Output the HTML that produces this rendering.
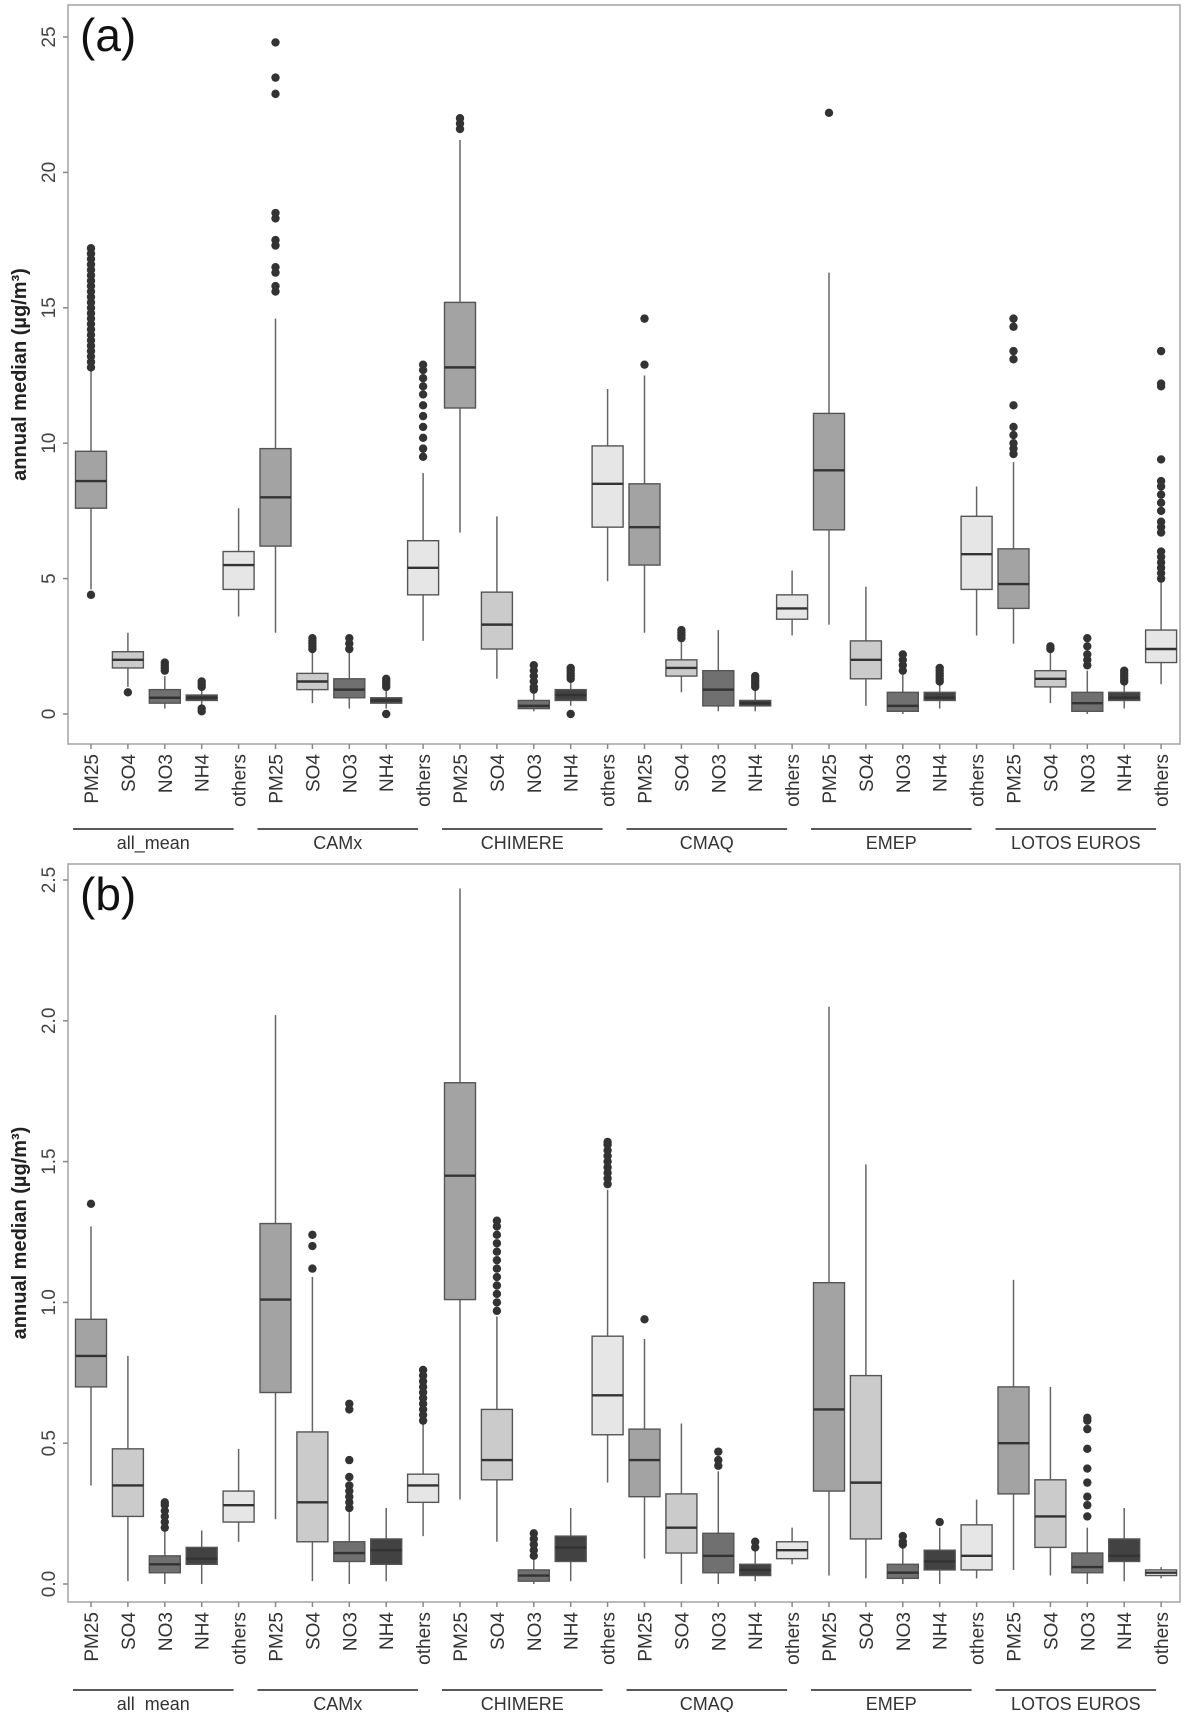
<!DOCTYPE html>
<html><head><meta charset="utf-8"><style>
body{margin:0;background:#fff}
svg{display:block;font-family:"Liberation Sans",sans-serif}
</style></head><body>
<svg id="chart" width="1192" height="1712" viewBox="0 0 1192 1712"></svg>
<script>
const groups=["all_mean","CAMx","CHIMERE","CMAQ","EMEP","LOTOS  EUROS"];
const species=["PM25","SO4","NO3","NH4","others"];
const fills=["#a3a3a3","#cbcbcb","#707070","#424242","#e6e6e6"];
// [lowWhisker,q1,median,q3,highWhisker] per box, panel a
const statsA=[
[4.6,7.6,8.6,9.7,12.7],[1.0,1.7,2.0,2.3,3.0],[0.2,0.4,0.6,0.9,1.4],[0.3,0.5,0.6,0.7,0.9],[3.6,4.6,5.5,6.0,7.6],
[3.0,6.2,8.0,9.8,14.6],[0.4,0.9,1.2,1.5,2.3],[0.2,0.6,0.9,1.3,2.3],[0.2,0.4,0.5,0.6,0.9],[2.7,4.4,5.4,6.4,8.9],
[6.7,11.3,12.8,15.2,21.2],[1.3,2.4,3.3,4.5,7.3],[0.1,0.2,0.3,0.5,0.8],[0.3,0.5,0.7,0.9,1.2],[4.9,6.9,8.5,9.9,12.0],
[3.0,5.5,6.9,8.5,12.5],[0.8,1.4,1.7,2.0,2.7],[0.1,0.3,0.9,1.6,3.1],[0.1,0.3,0.4,0.5,0.9],[2.9,3.5,3.9,4.4,5.3],
[3.3,6.8,9.0,11.1,16.3],[0.3,1.3,2.0,2.7,4.7],[0.0,0.1,0.3,0.8,1.5],[0.2,0.5,0.6,0.8,1.1],[2.9,4.6,5.9,7.3,8.4],
[2.6,3.9,4.8,6.1,9.3],[0.4,1.0,1.3,1.6,2.3],[0.0,0.1,0.4,0.8,1.6],[0.2,0.5,0.6,0.8,1.1],[1.1,1.9,2.4,3.1,4.9]];
const outA=[
[4.4,12.8,13.0,13.2,13.4,13.6,13.8,14.0,14.2,14.4,14.6,14.8,15.0,15.2,15.4,15.6,15.8,16.0,16.2,16.4,16.6,16.8,17.0,17.2],[0.8],[1.6,1.7,1.8,1.9],[0.1,0.2,1.0,1.1,1.2],[],
[15.6,15.8,16.3,16.5,17.3,17.5,18.3,18.5,22.9,23.5,24.8],[2.4,2.5,2.6,2.7,2.8],[2.4,2.6,2.8],[0.0,1.0,1.1,1.2,1.3],[9.5,9.8,10.2,10.6,11.0,11.4,11.8,12.1,12.4,12.7,12.9],
[21.6,21.8,22.0],[],[0.9,1.0,1.2,1.4,1.6,1.8],[0.0,1.3,1.4,1.5,1.6,1.7],[],
[12.9,14.6],[2.8,2.9,3.0,3.1],[],[1.0,1.1,1.2,1.3,1.4],[],
[22.2],[],[1.6,1.8,2.0,2.2],[1.2,1.3,1.4,1.5,1.6,1.7],[],
[9.6,9.8,10.0,10.3,10.6,11.4,13.1,13.4,14.3,14.6],[2.4,2.5],[1.8,2.0,2.2,2.5,2.8],[1.2,1.3,1.4,1.5,1.6],[5.0,5.2,5.4,5.6,5.8,6.0,6.7,6.9,7.1,7.5,7.8,8.1,8.4,8.6,9.4,12.1,12.2,13.4]];
// panel b
const statsB=[
[0.35,0.70,0.81,0.94,1.27],[0.01,0.24,0.35,0.48,0.81],[0.0,0.04,0.07,0.10,0.19],[0.0,0.07,0.09,0.13,0.19],[0.15,0.22,0.28,0.33,0.48],
[0.23,0.68,1.01,1.28,2.02],[0.01,0.15,0.29,0.54,1.09],[0.0,0.08,0.11,0.15,0.26],[0.01,0.07,0.12,0.16,0.27],[0.17,0.29,0.35,0.39,0.57],
[0.30,1.01,1.45,1.78,2.47],[0.15,0.37,0.44,0.62,0.95],[0.0,0.01,0.03,0.05,0.09],[0.01,0.08,0.13,0.17,0.27],[0.36,0.53,0.67,0.88,1.40],
[0.09,0.31,0.44,0.55,0.87],[0.0,0.11,0.20,0.32,0.57],[0.0,0.04,0.10,0.18,0.40],[0.01,0.03,0.05,0.07,0.12],[0.07,0.09,0.12,0.15,0.20],
[0.03,0.33,0.62,1.07,2.05],[0.02,0.16,0.36,0.74,1.49],[0.0,0.02,0.04,0.07,0.13],[0.0,0.05,0.08,0.12,0.20],[0.02,0.05,0.10,0.21,0.30],
[0.05,0.32,0.50,0.70,1.08],[0.03,0.13,0.24,0.37,0.70],[0.0,0.04,0.06,0.11,0.20],[0.01,0.08,0.10,0.16,0.27],[0.02,0.03,0.04,0.05,0.06]];
const outB=[
[1.35],[],[0.20,0.22,0.24,0.26,0.28,0.29],[],[],
[],[1.12,1.20,1.24],[0.27,0.29,0.31,0.33,0.35,0.38,0.44,0.62,0.64],[],[0.58,0.60,0.62,0.64,0.66,0.68,0.70,0.72,0.74,0.76],
[],[0.97,1.00,1.03,1.06,1.09,1.12,1.15,1.18,1.21,1.24,1.27,1.29],[0.10,0.12,0.14,0.16,0.18],[],[1.42,1.44,1.46,1.48,1.50,1.52,1.54,1.56,1.57],
[0.94],[],[0.42,0.44,0.47],[0.13,0.15],[],
[],[],[0.14,0.15,0.17],[0.22],[],
[],[],[0.24,0.28,0.31,0.36,0.41,0.48,0.55,0.58,0.59],[],[]];
const ticksA=[0,5,10,15,20,25];
const ticksB=["0.0","0.5","1.0","1.5","2.0","2.5"];

const svg=document.getElementById('chart');
const NS='http://www.w3.org/2000/svg';
function mk(tag,attrs,parent){const e=document.createElementNS(NS,tag);for(const k in attrs)e.setAttribute(k,attrs[k]);(parent||svg).appendChild(e);return e;}
function xOf(i){return 91+i*36.9;}

function panel(cfg){
  const g=mk('g',{});
  
  
  const y=v=>cfg.y0-(v/cfg.max)*(cfg.y0-cfg.yTop);
  const frame=mk('rect',{x:68,y:cfg.top,width:1112,height:cfg.bottom-cfg.top,fill:'none',stroke:'#aaa','stroke-width':1.6},g);
  
  
  const tl=mk('text',{x:80,y:cfg.top+46,'font-size':46,fill:'#111','font-family':'"Liberation Sans",sans-serif'},g);
  tl.textContent=cfg.label;
  
  
  cfg.ticks.forEach(t=>{
    const v=parseFloat(t), ty=y(v);
    mk('line',{x1:63,x2:68,y1:ty,y2:ty,stroke:'#888','stroke-width':1.5},g);
    const tx=mk('text',{x:55,y:ty,'font-size':19,fill:'#444','text-anchor':'middle',transform:`rotate(-90 55 ${ty})`},g);
    tx.textContent=t;
    
    
  });
  const at=mk('text',{x:26,y:(cfg.top+cfg.bottom)/2,'font-size':20,'font-weight':'bold',fill:'#222','text-anchor':'middle',transform:`rotate(-90 26 ${(cfg.top+cfg.bottom)/2})`},g);
  at.textContent='annual median (µg/m³)';
  
  
  cfg.stats.forEach((s,i)=>{
    const cx=xOf(i), w=31, sp=i%5;
    const b=mk('g',{},g);
    
    
    mk('line',{x1:cx,x2:cx,y1:y(s[0]),y2:y(s[4]),stroke:'#666','stroke-width':1.5},b);
    mk('rect',{x:cx-w/2,y:y(s[3]),width:w,height:Math.max(1,y(s[1])-y(s[3])),fill:fills[sp],stroke:'#555','stroke-width':1.4},b);
    mk('line',{x1:cx-w/2,x2:cx+w/2,y1:y(s[2]),y2:y(s[2]),stroke:'#333','stroke-width':2.4},b);
    cfg.out[i].forEach(o=>{
      const d=mk('circle',{cx:cx,cy:y(o),r:4.2,fill:'#333'},b);
      
      
    });
    mk('line',{x1:cx,x2:cx,y1:cfg.bottom,y2:cfg.bottom+5,stroke:'#888','stroke-width':1.5},g);
    const lx=cx+7, ly=cfg.bottom+10;
    const cl=mk('text',{x:lx,y:ly,'font-size':19,fill:'#333','text-anchor':'end',transform:`rotate(-90 ${lx} ${ly})`},g);
    cl.textContent=species[sp];
    
    
  });
  groups.forEach((gn,k)=>{
    const x1=xOf(k*5)-18, x2=xOf(k*5+4)-5;
    mk('line',{x1:x1,x2:x2,y1:cfg.lineY,y2:cfg.lineY,stroke:'#222','stroke-width':1.5},g);
    const gt=mk('text',{x:(x1+x2)/2,y:cfg.lineY+20,'font-size':18,fill:'#333','text-anchor':'middle','xml:space':'preserve'},g);
    gt.textContent=gn;
    
    
  });
}
panel({name:'panel-a',label:'(a)',top:5,bottom:744,y0:714,yTop:37,max:25,ticks:ticksA.map(String),stats:statsA,out:outA,lineY:829});
panel({name:'panel-b',label:'(b)',top:864,bottom:1602,y0:1584,yTop:880,max:2.5,ticks:ticksB,stats:statsB,out:outB,lineY:1690});
</script>
</body></html>
